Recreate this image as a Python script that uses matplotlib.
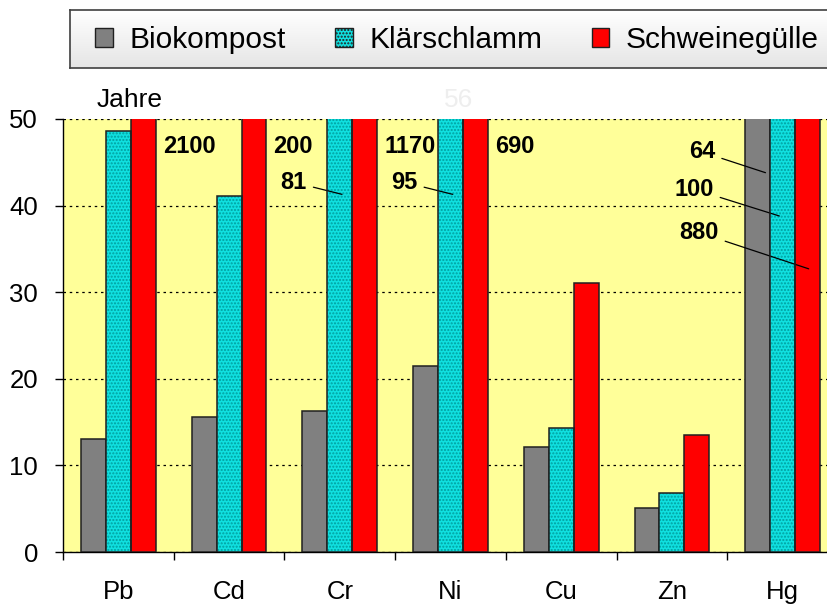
import numpy as np
import matplotlib.pyplot as plt
from matplotlib.patches import Patch

plt.rcParams['font.family'] = ['Liberation Sans', 'DejaVu Sans']
plt.rcParams['hatch.linewidth'] = 1.0

# Daten (Werte > 50 liegen außerhalb der Skala und werden beschriftet)
metalle = ['Pb', 'Cd', 'Cr', 'Ni', 'Cu', 'Zn', 'Hg']
biokompost = [13.0, 15.6, 16.3, 21.5, 12.1, 5.1, 64]
klaerschlamm = [48.6, 41.1, 81, 95, 14.3, 6.8, 100]
schweineguelle = [2100, 200, 1170, 690, 31.1, 13.5, 880]
serien = ['Biokompost', 'Klärschlamm', 'Schweinegülle']
yticks = [0, 10, 20, 30, 40, 50]

fig = plt.figure(figsize=(8.27, 6.08), dpi=100)
ax = fig.add_axes([63/827, 56/608, 775/827, 433/608])
ax.set_facecolor('#ffff99')

x = np.arange(len(metalle))
w = 0.225
ax.bar(x - w, biokompost, w, color='#808080', edgecolor='#202020', linewidth=1.1, zorder=3)
ax.bar(x, klaerschlamm, w, color='#10e0e0', edgecolor='#00a0a0', hatch='.....', linewidth=0, zorder=3)
ax.bar(x, klaerschlamm, w, fill=False, edgecolor='#202020', linewidth=1.1, zorder=4)
ax.bar(x + w, schweineguelle, w, color='#ff0000', edgecolor='#202020', linewidth=1.1, zorder=3)

ax.set_xlim(-0.5, len(metalle) - 0.5)
ax.set_ylim(0, 50)
ax.set_yticks(yticks)
ax.yaxis.grid(True, color='black', linestyle=(0, (2, 3)), linewidth=0.9)
ax.set_axisbelow(True)
for s in ['top', 'right']:
    ax.spines[s].set_visible(False)
ax.spines['left'].set_linewidth(1)
ax.spines['bottom'].set_linewidth(1)

ax.set_xticks(np.arange(len(metalle) + 1) - 0.5)
ax.set_xticklabels([])
ax.set_xticks(x, minor=True)
ax.set_xticklabels(metalle, minor=True)
ax.tick_params(axis='x', which='major', length=6, width=1, direction='out')
ax.tick_params(axis='x', which='minor', length=0, pad=20, labelsize=18.5)
ax.tick_params(axis='y', length=6, width=1, direction='out', pad=12, labelsize=18.5)

lab = dict(fontsize=17, fontweight='bold', va='center')
# Schweinegülle-Werte über der Skala (rechts neben der Gruppe)
for i in range(4):
    ax.text(i + 0.4, 46.8, f'{schweineguelle[i]:g}', ha='left', **lab)

# Klärschlamm-Werte mit Hinweislinie
for i in [2, 3]:
    ax.annotate(f'{klaerschlamm[i]:g}', xy=(i + 0.02, 41.3), xytext=(i - 0.3, 42.7),
                ha='right', arrowprops=dict(arrowstyle='-', lw=0.9, color='black',
                                            shrinkA=3, shrinkB=0), **lab)

# Hg-Werte
i = 6
ax.annotate(f'{biokompost[i]:g}', xy=(i - w + 0.07, 43.8), xytext=(i - 0.61, 46.2),
            ha='right', arrowprops=dict(arrowstyle='-', lw=0.9, color='black', shrinkA=3, shrinkB=0), **lab)
ax.annotate(f'{klaerschlamm[i]:g}', xy=(i - 0.03, 38.8), xytext=(i - 0.625, 41.9),
            ha='right', arrowprops=dict(arrowstyle='-', lw=0.9, color='black', shrinkA=3, shrinkB=0), **lab)
ax.annotate(f'{schweineguelle[i]:g}', xy=(i + w + 0.01, 32.7), xytext=(i - 0.58, 36.9),
            ha='right', arrowprops=dict(arrowstyle='-', lw=0.9, color='black', shrinkA=3, shrinkB=0), **lab)

ax.text(0.044, 1.045, 'Jahre', transform=ax.transAxes, fontsize=19, ha='left', va='center')
ax.text(3.07, 52.2, '56', fontsize=19, color='#eeeeee', ha='center', va='center', clip_on=False)

# Legendenrahmen mit leichtem Verlauf
lax = fig.add_axes([70/827, 1 - 68/608, 770/827, 58/608], zorder=0)
grad = np.linspace(1.0, 0.9, 50).reshape(-1, 1)
lax.imshow(np.dstack([grad, grad, grad]), aspect='auto', extent=[0, 1, 0, 1])
lax.set_xticks([])
lax.set_yticks([])
for s in lax.spines.values():
    s.set_edgecolor('#404040')
    s.set_linewidth(1.2)

handles = [Patch(facecolor='#808080', edgecolor='#202020'),
           Patch(facecolor='#10e0e0', edgecolor='#202020', hatch='.....'),
           Patch(facecolor='#ff0000', edgecolor='#202020')]
fig.legend(handles, serien, ncol=3, loc='center left', bbox_to_anchor=(80/827, 1 - 40/608),
           frameon=False, fontsize=21.5, borderpad=0, handlelength=0.6, handleheight=0.6,
           handletextpad=0.55, columnspacing=1.65)

fig.savefig('out.png', dpi=100)
